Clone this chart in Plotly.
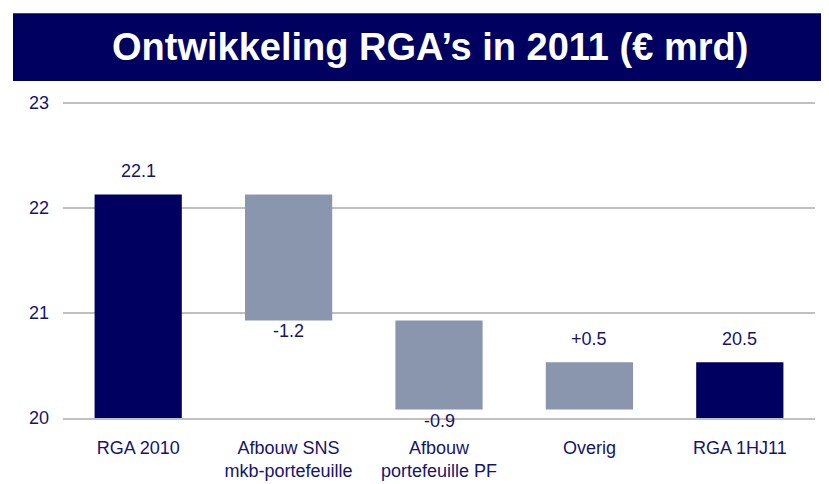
import plotly.graph_objects as go

categories = ["RGA 2010", "Afbouw SNS<br>mkb-portefeuille", "Afbouw<br>portefeuille PF", "Overig", "RGA 1HJ11"]
measures = ["absolute", "relative", "relative", "relative", "total"]
values = [22.13, -1.2, -0.85, 0.45, 0]
labels = ["22.1", "-1.2", "-0.9", "+0.5", "20.5"]
y_ticks = [20, 21, 22, 23]

NAVY = "#000060"
GRAY = "#8A96AE"
TEXT = "#14146E"
FONT = "Liberation Sans, Arial, sans-serif"

fig = go.Figure(go.Waterfall(
    x=categories,
    y=values,
    measure=measures,
    increasing=dict(marker=dict(color=GRAY)),
    decreasing=dict(marker=dict(color=GRAY)),
    totals=dict(marker=dict(color=NAVY)),
    connector=dict(visible=False),
    hoverinfo="skip",
))

# label positions derived from the waterfall logic
annotations = []
running = 0.0
for cat, m, v, lab in zip(categories, measures, values, labels):
    if m == "absolute":
        start, end = 0.0, v
    elif m == "relative":
        start, end = running, running + v
    else:
        start, end = 0.0, running
    running = end
    up = end >= start
    annotations.append(dict(
        x=cat, y=end, xref="x", yref="y", text=lab, showarrow=False,
        yanchor="bottom" if up else "top", yshift=11 if up else 1,
        font=dict(size=18, color=TEXT, family=FONT)))

# plot area (page px): x 63-815, y for 20 at 418; range top slightly above 23 so its gridline shows
Y_TOP = 23.02
PX_PER_UNIT = 315 / 3
plot_h = (Y_TOP - 20) * PX_PER_UNIT
top_px = 418 - plot_h


def py(page_y):
    return (418 - page_y) / plot_h


annotations.append(dict(text="<b>Ontwikkeling RGA’s in 2011 (€ mrd)</b>",
                        xref="paper", yref="paper",
                        x=(430 - 63) / 752, y=py(47),
                        xanchor="center", yanchor="middle", showarrow=False,
                        font=dict(size=38, color="white", family=FONT)))

# page has an 8px body margin: figure is shifted by -8 px
fig.update_layout(
    width=821, height=476,
    margin=dict(l=55, r=14, t=top_px - 8, b=66),
    paper_bgcolor="white", plot_bgcolor="white",
    waterfallgap=0.42,
    showlegend=False,
    font=dict(family=FONT, color=TEXT, size=18),
    xaxis=dict(showgrid=False, showline=True, linecolor="#C0C0C0", linewidth=2,
               tickfont=dict(size=18, color=TEXT), ticks="", automargin=False,
               ticklabelstandoff=12),
    yaxis=dict(range=[20, Y_TOP], tickvals=y_ticks, showgrid=True, gridcolor="#C0C0C0",
               gridwidth=2, zeroline=False, showline=False, ticks="", automargin=False,
               tickfont=dict(size=18, color=TEXT), ticklabelstandoff=13),
    shapes=[dict(type="rect", xref="paper", yref="paper",
                 x0=(13 - 63) / 752, x1=(829 - 63) / 752,
                 y0=py(81), y1=py(13),
                 fillcolor=NAVY, line=dict(width=0), layer="below")],
    annotations=annotations,
)

fig.write_html("out.html")
